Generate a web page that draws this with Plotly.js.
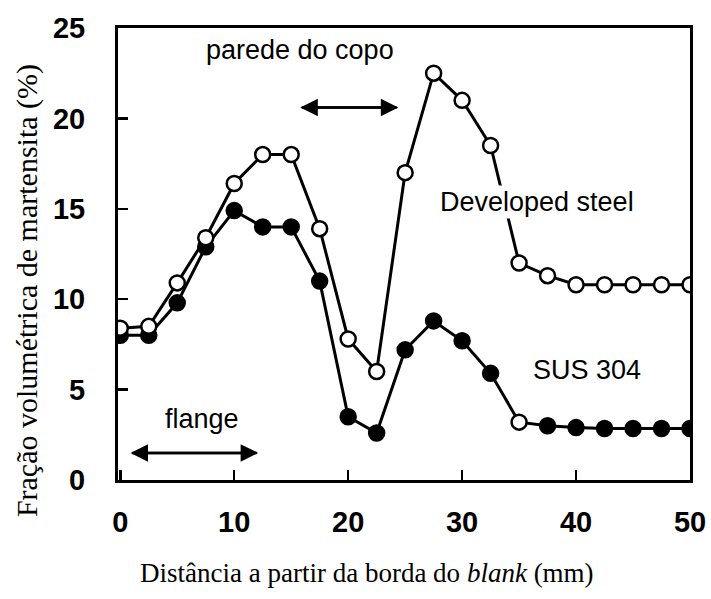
<!DOCTYPE html>
<html><head><meta charset="utf-8">
<script src="https://cdn.plot.ly/plotly-3.0.1.min.js"></script>
<style>body{margin:0;background:#fff}#c{width:711px;height:599px}</style>
</head><body><div id="c"></div>
<script>
const distance = [0,2.5,5,7.5,10,12.5,15,17.5,20,22.5,25,27.5,30,32.5,35,37.5,40,42.5,45,47.5,50];
const developedSteel = [8.4,8.5,10.9,13.4,16.4,18.0,18.0,13.9,7.8,6.0,17.0,22.5,21.0,18.5,12.0,11.3,10.8,10.8,10.8,10.8,10.8];
const sus304 = [8.0,8.0,9.8,12.9,14.9,14.0,14.0,11.0,3.5,2.6,7.2,8.8,7.7,5.9,3.2,3.0,2.9,2.85,2.85,2.85,2.85];
const xTicks = [0,10,20,30,40,50];
const yTicks = [0,5,10,15,20,25];

const susColors = sus304.map((v,i)=> i===14 ? 'white' : 'black');

const traces = [
 {x: distance, y: sus304, mode:'lines+markers', name:'SUS 304',
  line:{color:'black', width:3},
  marker:{symbol:'circle', size:15, color:susColors, line:{color:'black', width:2.5}}},
 {x: distance, y: developedSteel, mode:'lines+markers', name:'Developed steel',
  line:{color:'black', width:3},
  marker:{symbol:'circle', size:15, color:'white', line:{color:'black', width:2.5}}}
];

const axisCommon = {showgrid:false, zeroline:false, showline:true, linecolor:'black', linewidth:3,
  mirror:true, ticks:'inside', ticklen:10, tickwidth:2.5, tickcolor:'black',
  tickfont:{family:'Liberation Sans, Arial', size:29, color:'black', weight:'bold'}};

const labelFont = {family:'Liberation Sans, Arial', size:27, color:'black'};

const layout = {
  width:711, height:599,
  margin:{l:118, r:21, t:28, b:119},
  paper_bgcolor:'white', plot_bgcolor:'white',
  showlegend:false,
  xaxis: Object.assign({}, axisCommon, {range:[-0.2,50], tickvals:xTicks, ticktext:xTicks.map(String), ticklabelstandoff:14}),
  yaxis: Object.assign({}, axisCommon, {range:[0,25], tickvals:yTicks, ticktext:yTicks.map(String), ticklabelstandoff:24}),
  annotations:[
    {x:0.435, y:-0.206, xref:'paper', yref:'paper', text:'Distância a partir da borda do <i>blank</i> (mm)', showarrow:false,
     font:{family:'Liberation Serif, Times New Roman', size:27, color:'black'}, xanchor:'center', yanchor:'middle'},
    {x:-0.159, y:0.418, xref:'paper', yref:'paper', text:'Fração volumétrica de martensita (%)', showarrow:false, textangle:-90,
     font:{family:'Liberation Serif, Times New Roman', size:30, color:'black'}, xanchor:'center', yanchor:'middle'},
    {x:36.6, y:15.4, xref:'x', yref:'y', text:'Developed steel', showarrow:false, bgcolor:'white', font:labelFont, xanchor:'center'},
    {x:41.0, y:6.1, xref:'x', yref:'y', text:'SUS 304', showarrow:false, font:labelFont, xanchor:'center'},
    {x:15.8, y:23.8, xref:'x', yref:'y', text:'parede do copo', showarrow:false, font:labelFont, xanchor:'center'},
    {x:7.2, y:3.4, xref:'x', yref:'y', text:'flange', showarrow:false, font:labelFont, xanchor:'center'},
    {x:0.9, y:1.5, ax:12.1, ay:1.5, xref:'x', yref:'y', axref:'x', ayref:'y', text:'', showarrow:true, arrowhead:2, arrowsize:1.4, arrowwidth:2.5, arrowcolor:'black'},
    {x:12.1, y:1.5, ax:0.9, ay:1.5, xref:'x', yref:'y', axref:'x', ayref:'y', text:'', showarrow:true, arrowhead:2, arrowsize:1.4, arrowwidth:2.5, arrowcolor:'black'},
    {x:15.8, y:20.6, ax:24.4, ay:20.6, xref:'x', yref:'y', axref:'x', ayref:'y', text:'', showarrow:true, arrowhead:2, arrowsize:1.4, arrowwidth:2.5, arrowcolor:'black'},
    {x:24.4, y:20.6, ax:15.8, ay:20.6, xref:'x', yref:'y', axref:'x', ayref:'y', text:'', showarrow:true, arrowhead:2, arrowsize:1.4, arrowwidth:2.5, arrowcolor:'black'}
  ]
};

Plotly.newPlot('c', traces, layout, {displayModeBar:false, staticPlot:true});
</script>
</body></html>
